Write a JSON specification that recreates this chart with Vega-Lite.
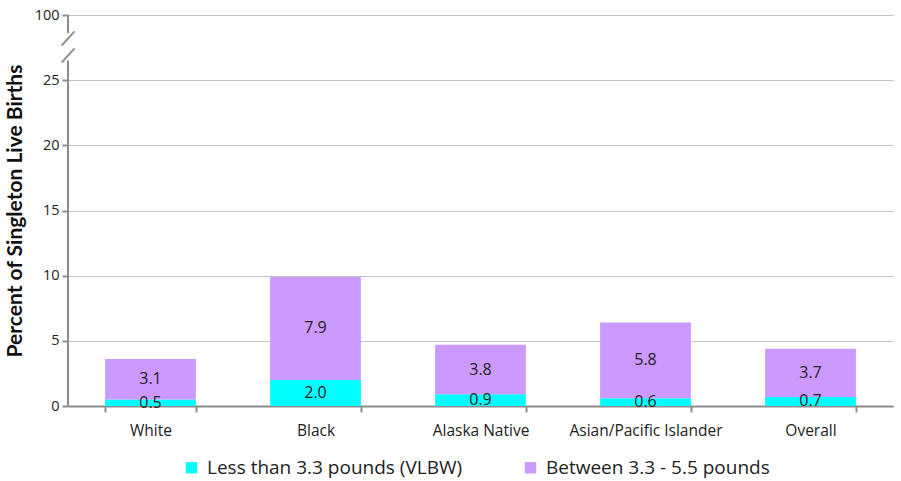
{
  "$schema": "https://vega.github.io/schema/vega-lite/v6.json",
  "autosize": {"type": "none"},
  "width": 825,
  "height": 391,
  "padding": {"left": 68, "top": 15, "right": 8, "bottom": 75},
  "background": "white",
  "config": {
    "font": "Open Sans",
    "view": {"stroke": null}
  },
  "data": {
    "values": [
      {"group": "White", "weight": "Less than 3.3 pounds (VLBW)", "k": 1, "value": 0.5},
      {"group": "White", "weight": "Between 3.3 - 5.5 pounds", "k": 2, "value": 3.1},
      {"group": "Black", "weight": "Less than 3.3 pounds (VLBW)", "k": 1, "value": 2.0},
      {"group": "Black", "weight": "Between 3.3 - 5.5 pounds", "k": 2, "value": 7.9},
      {"group": "Alaska Native", "weight": "Less than 3.3 pounds (VLBW)", "k": 1, "value": 0.9},
      {"group": "Alaska Native", "weight": "Between 3.3 - 5.5 pounds", "k": 2, "value": 3.8},
      {"group": "Asian/Pacific Islander", "weight": "Less than 3.3 pounds (VLBW)", "k": 1, "value": 0.6},
      {"group": "Asian/Pacific Islander", "weight": "Between 3.3 - 5.5 pounds", "k": 2, "value": 5.8},
      {"group": "Overall", "weight": "Less than 3.3 pounds (VLBW)", "k": 1, "value": 0.7},
      {"group": "Overall", "weight": "Between 3.3 - 5.5 pounds", "k": 2, "value": 3.7}
    ]
  },
  "layer": [
    {
      "mark": {"type": "bar"},
      "encoding": {
        "x": {
          "field": "group", "type": "nominal", "sort": null,
          "scale": {"paddingInner": 0.45, "paddingOuter": 0.225},
          "axis": {
            "title": null, "labelAngle": 0, "labelFontSize": 15.5, "labelColor": "#222222",
            "labelPadding": 11, "tickBand": "extent", "tickSize": 6, "tickWidth": 2,
            "tickColor": "#8c8c8c", "domainColor": "#8c8c8c", "domainWidth": 2, "grid": false
          }
        },
        "y": {
          "field": "value", "type": "quantitative", "stack": "zero",
          "scale": {"domain": [0, 30], "nice": false},
          "axis": {
            "values": [0, 5, 10, 15, 20, 25, 30],
            "labelExpr": "datum.value == 30 ? '100' : datum.label",
            "title": "Percent of Singleton Live Births",
            "titleFont": "Lato", "titleFontSize": 21, "titleFontWeight": "bold", "titleColor": "#111111",
            "titlePadding": 9,
            "labelFontSize": 14.5, "labelColor": "#222222", "labelPadding": 3,
            "domain": false, "tickColor": "#8c8c8c", "tickWidth": 2, "tickSize": 6,
            "gridColor": "#c4c4c4", "gridWidth": 1
          }
        },
        "color": {
          "field": "weight", "type": "nominal",
          "scale": {
            "domain": ["Less than 3.3 pounds (VLBW)", "Between 3.3 - 5.5 pounds"],
            "range": ["#00ffff", "#cc99ff"]
          },
          "legend": {
            "title": null, "orient": "none", "direction": "horizontal",
            "legendX": 114, "legendY": 443,
            "symbolType": "square", "symbolSize": 130, "symbolStrokeWidth": 0,
            "labelFontSize": 19, "labelColor": "#222222", "labelLimit": 0, "columnPadding": 58,
            "labelOffset": 6
          }
        },
        "order": {"field": "k", "type": "quantitative"}
      }
    },
    {
      "mark": {"type": "text", "fontSize": 16, "color": "#222222", "baseline": "middle"},
      "encoding": {
        "x": {"field": "group", "type": "nominal", "sort": null},
        "y": {"field": "value", "type": "quantitative", "stack": "zero", "bandPosition": 0.5},
        "text": {"field": "value", "type": "quantitative", "format": ".1f"},
        "order": {"field": "k", "type": "quantitative"}
      }
    },
    {
      "data": {"values": [{"a": 0, "b": 26.5}, {"a": 28.6, "b": 30}]},
      "mark": {"type": "rule", "color": "#8c8c8c", "strokeWidth": 2},
      "encoding": {
        "x": {"value": 0},
        "y": {"field": "a", "type": "quantitative"},
        "y2": {"field": "b"}
      }
    },
    {
      "data": {"values": [{"s": "/", "p": 28.2}, {"s": "/", "p": 26.9}]},
      "mark": {"type": "text", "fontSize": 22, "color": "#8c8c8c", "angle": 25, "baseline": "middle", "align": "center", "font": "DejaVu Sans"},
      "encoding": {
        "x": {"value": 0},
        "y": {"field": "p", "type": "quantitative"},
        "text": {"field": "s"}
      }
    }
  ]
}
